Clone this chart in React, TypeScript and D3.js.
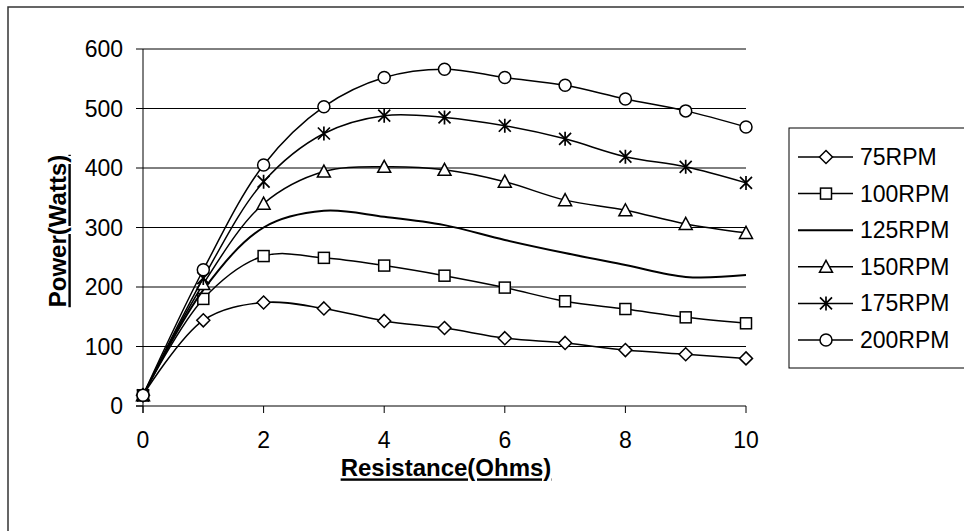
import React from 'react';
import * as d3 from 'd3';

const resistance = [0, 1, 2, 3, 4, 5, 6, 7, 8, 9, 10];
const rpm75 = [18, 144, 174, 164, 143, 131, 114, 106, 94, 87, 80];
const rpm100 = [18, 180, 252, 249, 236, 219, 199, 176, 163, 149, 139];
const rpm125 = [18, 195, 300, 328, 318, 304, 279, 257, 237, 217, 220];
const rpm150 = [18, 205, 340, 394, 402, 397, 377, 346, 329, 306, 291];
const rpm175 = [18, 215, 377, 458, 488, 485, 471, 449, 419, 402, 375];
const rpm200 = [18, 229, 405, 503, 552, 566, 552, 539, 516, 496, 469];
const seriesNames = ['75RPM', '100RPM', '125RPM', '150RPM', '175RPM', '200RPM'];
const markerTypes = ['diamond', 'square', 'none', 'triangle', 'star', 'circle'];
const yTicks = [0, 100, 200, 300, 400, 500, 600];
const xTicks = [0, 2, 4, 6, 8, 10];

const FONT = '"Liberation Sans", Arial, sans-serif';

function Marker({ type, cx, cy }: { type: string; cx: number; cy: number }) {
  const s = { fill: '#fff', stroke: '#000', strokeWidth: 1.5 };
  if (type === 'diamond') {
    const h = 6.5;
    return <path d={`M${cx},${cy - h}L${cx + h},${cy}L${cx},${cy + h}L${cx - h},${cy}Z`} {...s} />;
  }
  if (type === 'square') {
    const h = 5.5;
    return <rect x={cx - h} y={cy - h} width={2 * h} height={2 * h} {...s} />;
  }
  if (type === 'triangle') {
    const h = 6.5;
    return <path d={`M${cx},${cy - h}L${cx + h},${cy + h * 0.85}L${cx - h},${cy + h * 0.85}Z`} {...s} />;
  }
  if (type === 'circle') {
    return <circle cx={cx} cy={cy} r={6} {...s} />;
  }
  if (type === 'star') {
    const h = 6;
    return (
      <path
        d={`M${cx - h},${cy - h}L${cx + h},${cy + h}M${cx - h},${cy + h}L${cx + h},${cy - h}M${cx},${cy - h - 1}L${cx},${cy + h + 1}`}
        fill="none"
        stroke="#000"
        strokeWidth={1.7}
      />
    );
  }
  return null;
}

export default function App() {
  const series = [rpm75, rpm100, rpm125, rpm150, rpm175, rpm200];
  const x = d3.scaleLinear().domain([0, 10]).range([143, 746]);
  const y = d3.scaleLinear().domain([0, 600]).range([406, 49]);
  const line = d3
    .line<number>()
    .x((_, i) => x(resistance[i]))
    .y((d) => y(d))
    .curve(d3.curveCatmullRom.alpha(0.5));

  const legendX = 789;
  const legendTop = 128;
  const legendBottom = 368;
  const rowY = (i: number) => 157 + i * 36.6;

  return (
    <svg
      width={964}
      height={531}
      style={{ position: 'absolute', left: 0, top: 0, background: '#fff' }}
      fontFamily={FONT}
    >
      <rect x={0} y={0} width={964} height={531} fill="#fff" />
      {/* outer frame */}
      <path d="M8,531V7H964" fill="none" stroke="#333" strokeWidth={1.5} />

      {/* gridlines */}
      {yTicks.filter((t) => t > 0).map((t) => (
        <line key={t} x1={x(0)} x2={x(10)} y1={y(t)} y2={y(t)} stroke="#000" strokeWidth={1} />
      ))}
      {/* axes */}
      <line x1={x(0)} x2={x(0)} y1={y(600)} y2={y(0) + 7} stroke="#000" strokeWidth={1} />
      <line x1={x(0) - 7} x2={x(10)} y1={y(0)} y2={y(0)} stroke="#000" strokeWidth={1} />
      {yTicks.map((t) => (
        <g key={t}>
          <line x1={x(0) - 7} x2={x(0)} y1={y(t)} y2={y(t)} stroke="#000" strokeWidth={1} />
          <text x={123} y={y(t)} dy="0.35em" textAnchor="end" fontSize={23}>
            {t}
          </text>
        </g>
      ))}
      {xTicks.map((t) => (
        <g key={t}>
          <line x1={x(t)} x2={x(t)} y1={y(0)} y2={y(0) + 7} stroke="#000" strokeWidth={1} />
          <text x={x(t)} y={440} dy="0.35em" textAnchor="middle" fontSize={23}>
            {t}
          </text>
        </g>
      ))}

      {/* series */}
      {series.map((vals, si) => (
        <g key={si}>
          <path d={line(vals) || ''} fill="none" stroke="#000" strokeWidth={si === 2 ? 2 : 1.5} />
          {markerTypes[si] !== 'none' &&
            vals.map((v, i) => <Marker key={i} type={markerTypes[si]} cx={x(resistance[i])} cy={y(v)} />)}
        </g>
      ))}

      {/* axis titles */}
      <text
        x={446}
        y={468}
        dy="0.35em"
        textAnchor="middle"
        fontSize={24}
        fontWeight="bold"
        textDecoration="underline"
      >
        Resistance(Ohms)
      </text>
      <text
        transform={`translate(58,231) rotate(-90)`}
        dy="0.35em"
        textAnchor="middle"
        fontSize={24}
        fontWeight="bold"
        textDecoration="underline"
      >
        Power(Watts)
      </text>

      {/* legend */}
      <rect
        x={legendX}
        y={legendTop}
        width={200}
        height={legendBottom - legendTop}
        fill="#fff"
        stroke="#000"
        strokeWidth={1}
      />
      {seriesNames.map((name, i) => (
        <g key={name}>
          <line x1={798} x2={853} y1={rowY(i)} y2={rowY(i)} stroke="#000" strokeWidth={i === 2 ? 2 : 1.5} />
          {markerTypes[i] !== 'none' && <Marker type={markerTypes[i]} cx={826} cy={rowY(i)} />}
          <text x={860} y={rowY(i)} dy="0.35em" fontSize={23}>
            {name}
          </text>
        </g>
      ))}
    </svg>
  );
}
